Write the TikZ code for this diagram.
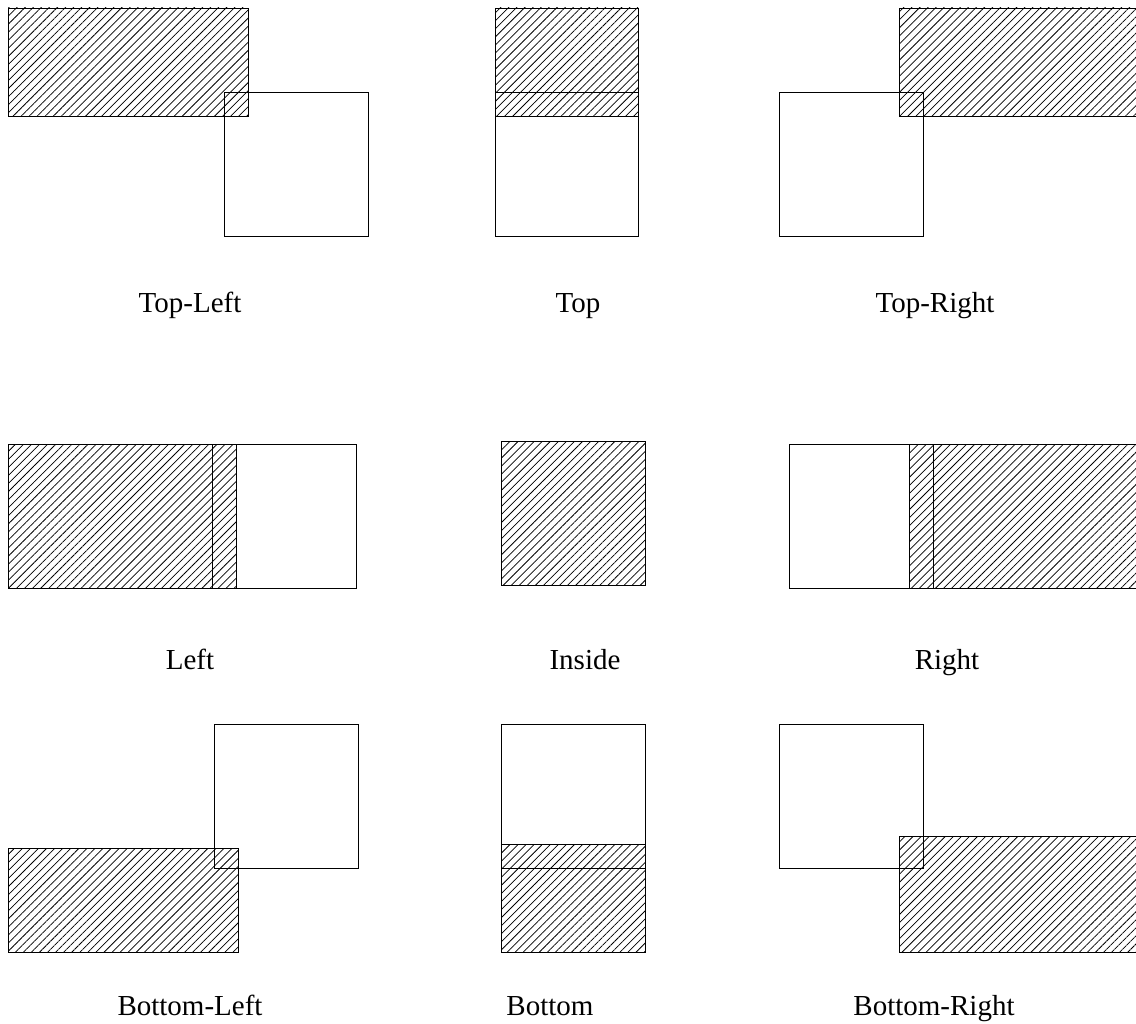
\documentclass[tikz,border=0pt]{standalone}
\usepackage{fontspec}
\setmainfont{Liberation Serif}
\usetikzlibrary{patterns.meta}

\begin{document}
\begin{tikzpicture}[
  x=1pt, y=-1pt,
  box/.style={draw, line width=0.8pt},
  hatched/.style={draw, line width=0.8pt, pattern={Lines[angle=45,distance=5.7pt,line width=0.75pt]}},
  caption/.style={font=\fontsize{29}{34}\selectfont, inner sep=0pt, anchor=base}
]
\useasboundingbox (0,0) rectangle (1136,1024);
\clip (0,0) rectangle (1136,1024);

% --- top row ---
\draw[hatched] (8,8) rectangle (248,116);
\draw[box] (224,92) rectangle (368,236);
\node[caption] (topleft) at (190,313) {Top-Left};

\draw[hatched] (495,8) rectangle (638,116);
\draw[box] (495,92) rectangle (638,236);
\node[caption] (top) at (578,313) {Top};

\draw[hatched] (899,8) rectangle (1140,116);
\draw[box] (779,92) rectangle (923,236);
\node[caption] (topright) at (935,313) {Top-Right};

% --- middle row ---
\draw[hatched] (8,444) rectangle (236,588);
\draw[box] (212,444) rectangle (356,588);
\node[caption] (left) at (190,669) {Left};

\draw[hatched] (501,441) rectangle (645,585);
\draw[box] (501,441) rectangle (645,585);
\node[caption] (inside) at (585,669) {Inside};

\draw[hatched] (909,444) rectangle (1140,588);
\draw[box] (789,444) rectangle (933,588);
\node[caption] (right) at (947,669) {Right};

% --- bottom row ---
\draw[hatched] (8,848) rectangle (238,952);
\draw[box] (214,724) rectangle (358,868);
\node[caption] (bottomleft) at (190,1015) {Bottom-Left};

\draw[hatched] (501,844) rectangle (645,952);
\draw[box] (501,724) rectangle (645,868);
\node[caption] (bottom) at (550,1015) {Bottom};

\draw[hatched] (899,836) rectangle (1140,952);
\draw[box] (779,724) rectangle (923,868);
\node[caption] (bottomright) at (934,1015) {Bottom-Right};
\end{tikzpicture}
\end{document}
